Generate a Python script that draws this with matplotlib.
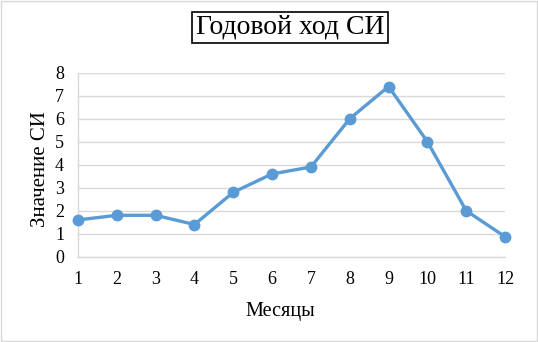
import matplotlib
matplotlib.use("Agg")
import matplotlib.pyplot as plt
from matplotlib.patches import Rectangle

months = [1, 2, 3, 4, 5, 6, 7, 8, 9, 10, 11, 12]
si_values = [1.6, 1.8, 1.8, 1.4, 2.8, 3.6, 3.9, 6.0, 7.4, 5.0, 2.0, 0.87]
y_ticks = [0, 1, 2, 3, 4, 5, 6, 7, 8]

plt.rcParams['font.family'] = ['Liberation Serif', 'DejaVu Serif']

fig = plt.figure(figsize=(5.38, 3.42), dpi=100)
ax = fig.add_axes([0.145, 0.2494, 0.7937, 0.538])

ax.plot(months, si_values, color='#5B9BD5', linewidth=2.4,
        marker='o', markersize=7.5, zorder=3, clip_on=False)

ax.set_xlim(1, 12)
ax.set_ylim(0, 8)
ax.set_xticks(months)
ax.set_yticks(y_ticks)
ax.tick_params(axis='x', length=0, labelsize=13, pad=10)
ax.tick_params(axis='y', length=0, labelsize=13, pad=10)
ax.grid(axis='y', color='#D9D9D9', linewidth=1)
ax.set_axisbelow(True)
for side in ['top', 'right']:
    ax.spines[side].set_visible(False)
for side in ['left', 'bottom']:
    ax.spines[side].set_color('#D9D9D9')
    ax.spines[side].set_linewidth(1)

ax.set_xlabel('Месяцы', fontsize=14.5)
ax.set_ylabel('Значение СИ', fontsize=15)
ax.xaxis.set_label_coords(0.473, -0.245)
ax.yaxis.set_label_coords(-0.065, 0.477)

fig.text(0.539, 0.92, 'Годовой ход СИ', fontsize=20, ha='center', va='center',
         bbox=dict(boxstyle='square,pad=0.12', facecolor='white',
                   edgecolor='black', linewidth=1.2))

fig.patches.append(Rectangle((0.002, 0.003), 0.996, 0.994, transform=fig.transFigure,
                             fill=False, edgecolor='#D9D9D9', linewidth=1))

fig.savefig('out.png', dpi=100)
